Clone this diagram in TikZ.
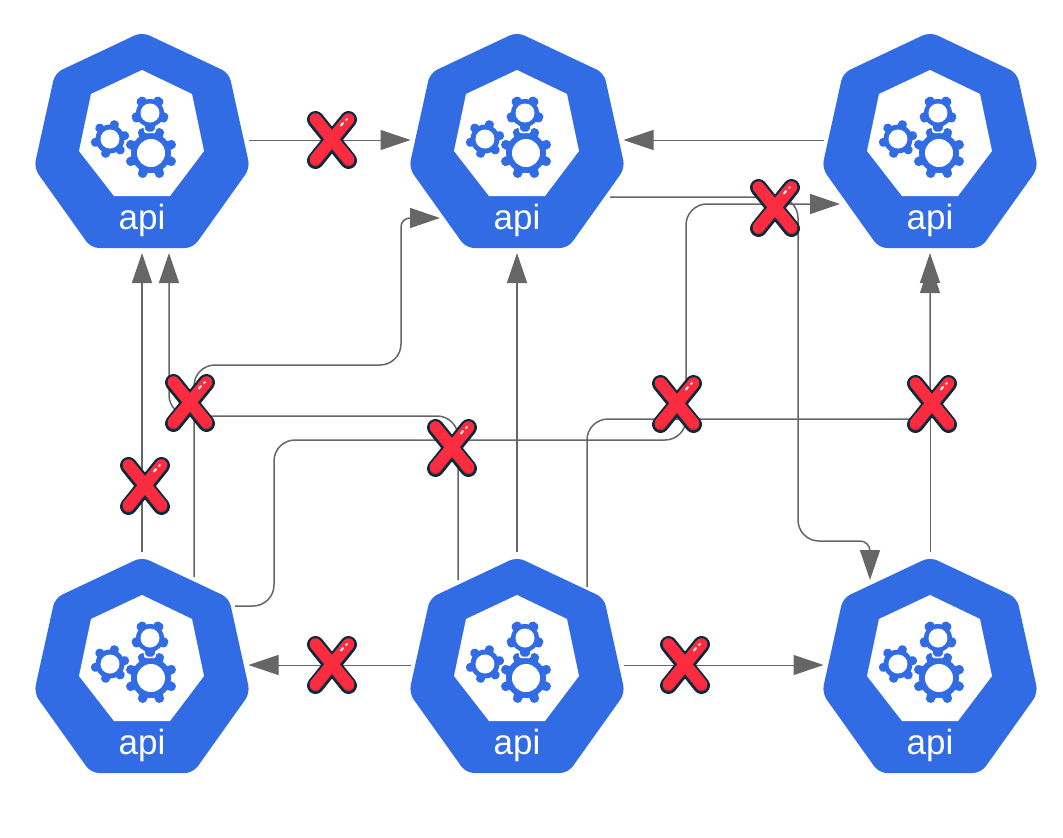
\documentclass[tikz,border=0pt]{standalone}
\usepackage{fontspec}
\setmainfont{Liberation Sans}
\usepackage{tikz}
\usetikzlibrary{matrix,shapes,arrows.meta,positioning,calc}
\definecolor{apiblue}{HTML}{326CE5}
\definecolor{wiregray}{HTML}{666666}
\definecolor{crossred}{HTML}{FB2C40}
\definecolor{crossshade}{HTML}{C42A3C}
\definecolor{crossdark}{HTML}{0E2A3A}
% centre x, centre y, hole, body, tip, teeth, start angle
\newcommand{\gearwheel}[7]{
  \begin{scope}
    \pgftransformshift{\pgfpointxy{#1}{#2}}
    \fill[white] (0,0) circle ({#4+1.5});
    \foreach \k in {1,...,#6} {
      \pgfmathsetmacro{\tooth}{#7+\k*360/#6}
      \pgfmathsetmacro{\base}{0.34*360/#6}
      \pgfmathsetmacro{\top}{0.18*360/#6}
      \filldraw[white,line width=3pt,line join=round] ({\tooth-\base}:#4-1) -- ({\tooth-\top}:#5) -- ({\tooth+\top}:#5) -- ({\tooth+\base}:#4-1) -- cycle;
    }
    \fill[apiblue] (0,0) circle (#4);
    \foreach \k in {1,...,#6} {
      \pgfmathsetmacro{\tooth}{#7+\k*360/#6}
      \pgfmathsetmacro{\base}{0.34*360/#6}
      \pgfmathsetmacro{\top}{0.18*360/#6}
      \fill[apiblue,rounded corners=2pt] ({\tooth-\base}:#4-1) -- ({\tooth-\top}:#5) -- ({\tooth+\top}:#5) -- ({\tooth+\base}:#4-1) -- cycle;
    }
    \fill[white] (0,0) circle (#3);
  \end{scope}
}
\newcommand{\apiicon}{
  \begin{scope}
    \pgftransformshift{\pgfpointanchor{path picture bounding box}{center}}
    \fill[apiblue,rounded corners=8pt] (0,-108) -- (87,-67) -- (108,28) -- (51,108) -- (-51,108) -- (-108,28) -- (-87,-67) -- cycle;
    \fill[white] (0,-70) -- (50,-46) -- (62,11) -- (28,56) -- (-28,56) -- (-63,11) -- (-51,-46) -- cycle;
    \gearwheel{9}{13}{14}{20}{26.5}{8}{22.5}
    \gearwheel{-32}{-1}{9.5}{14.5}{19.5}{6}{47}
    \gearwheel{8}{-27}{9.5}{14}{19}{5}{18}
  \end{scope}
}
\newcommand{\crossicon}{
  \begin{scope}
    \pgftransformshift{\pgfpointanchor{path picture bounding box}{center}}
    \draw[crossdark,line width=17pt,line cap=round] (-16.5,-20.5) -- (16.5,20.5) (16.5,-20.5) -- (-16.5,20.5);
    \draw[crossshade,line width=11.5pt,line cap=round] (-16.5,-20.5) -- (16.5,20.5) (16.5,-20.5) -- (-16.5,20.5);
    \draw[crossred,line width=11.5pt,line cap=round] (-16.5,-21) -- (16.5,19) (16.5,-21) -- (-16.5,19);
    \draw[white,line width=2pt,line cap=round] (9,-14.5) -- (11,-17) (14,-20) -- (15,-21);
  \end{scope}
}
\tikzset{
    apiserver/.style={
            rectangle,
            inner sep=0pt,
            outer sep=0pt,
            minimum width=213pt,
            minimum height=226pt,
            text=white,
            font=\fontsize{35}{35}\selectfont,
            text height=202pt,
            text depth=24pt,
            path picture={\apiicon}
        },
    blocked/.style={
            rectangle,
            inner sep=0pt,
            outer sep=0pt,
            minimum size=64pt,
            path picture={\crossicon}
        },
    wire/.style={
            color=wiregray,
            draw,
            line width=1.5pt,
            rounded corners=21pt,
            -{Triangle[length=30pt,width=20pt]}
        },
    thin wire/.style={
            wire,
            line width=1pt
        }
}
\begin{document}
\begin{tikzpicture}[x=1pt,y=-1pt]
  \useasboundingbox (0,0) rectangle (1063,838);
  \matrix (m)[matrix of nodes, column sep=162pt, row sep=299pt, inner sep=0pt, outer sep=0pt, nodes={anchor=center}, anchor=north west] at (35.5,27) {
  |[apiserver]|{api} & |[apiserver]|{api} &[38pt] |[apiserver]|{api} \\
  |[apiserver]|{api} & |[apiserver]|{api} &[38pt] |[apiserver]|{api} \\
  };
  % straight ones
  \path [thin wire] (m-1-1) edge (m-1-2);
  \path [thin wire] (m-1-3) edge (m-1-2);
  \path [wire] (m-2-1) edge (m-1-1);
  \path [wire] (m-2-2) edge (m-1-2);
  \path [thin wire,shorten >=10pt] (m-2-3) edge (m-1-3);
  \path [thin wire] (m-2-2) edge (m-2-1);
  \path [thin wire] (m-2-2) edge (m-2-3);
  % routed ones
  \draw [wire] ($(m-1-2.center)+(93,57)$) -- (798,197) -- (798,541) [rounded corners=10pt] -- (870,541) -- ($(m-2-3.center)+(-60,-85)$);
  \draw [wire] ($(m-2-2.center)+(70,-78)$) -- (587,419) -- (930,419) -- (m-1-3.south);
  \draw [wire] ($(m-2-1.center)+(93,-59)$) -- (274,606) -- (274,440) -- (686,440) -- (686,204) -- ($(m-1-3.center)+(-90,64)$);
  \draw [wire] ($(m-2-1.center)+(52,-88)$) -- (194,365) -- (401,365) [rounded corners=9pt] -- (401,218) -- ($(m-1-2.center)+(-77,78)$);
  \draw [wire] ($(m-2-2.center)+(-59,-85)$) -- (458,416) -- (169,416) -- (169,253);
  % crosses
  \node [blocked] (cross-a) at (332,140) {};
  \node [blocked] (cross-b) at (190,403) {};
  \node [blocked] (cross-c) at (145,486) {};
  \node [blocked] (cross-d) at (452,448) {};
  \node [blocked] (cross-e) at (677,404) {};
  \node [blocked] (cross-f) at (775,208) {};
  \node [blocked] (cross-g) at (932,404) {};
  \node [blocked] (cross-h) at (332,665) {};
  \node [blocked] (cross-i) at (685,665) {};
\end{tikzpicture}
\end{document}
